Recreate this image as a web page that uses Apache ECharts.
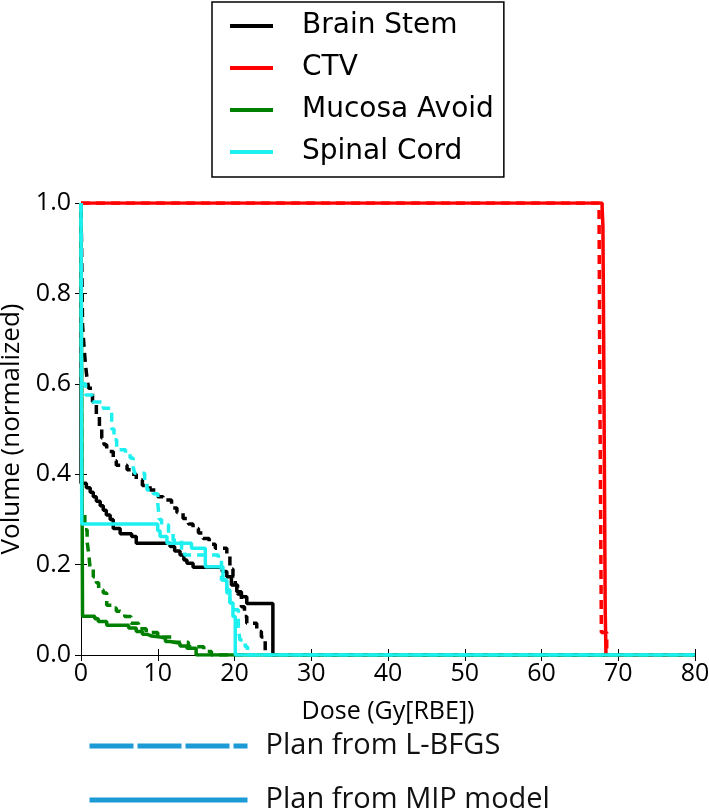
<!DOCTYPE html>
<html>
<head>
<meta charset="utf-8">
<script src="https://cdn.jsdelivr.net/npm/echarts@6/dist/echarts.min.js"></script>
<style>
html,body{margin:0;padding:0;background:#fff;}
#chart{width:709px;height:809px;}
</style>
</head>
<body>
<div id="chart"></div>
<script>
// ---- data: [dose (Gy[RBE]), volume (normalized)] ----
const structures = ['Brain Stem', 'CTV', 'Mucosa Avoid', 'Spinal Cord'];
const planNames = ['Plan from L-BFGS', 'Plan from MIP model'];
const xTicks = [0, 10, 20, 30, 40, 50, 60, 70, 80];
const yTicks = [0.0, 0.2, 0.4, 0.6, 0.8, 1.0];

const brainStemMIP = [[0,1.0],[0,0.38],[0.7,0.37],[1.2,0.36],[1.6,0.35],[2.0,0.34],[2.5,0.33],[2.9,0.32],[3.3,0.31],[3.8,0.30],[4.2,0.28],[5.1,0.268],[6.6,0.262],[7.2,0.247],[11.6,0.24],[12.2,0.23],[12.9,0.221],[13.4,0.21],[13.8,0.203],[14.6,0.194],[18.4,0.185],[19.0,0.173],[19.6,0.155],[20.3,0.14],[20.9,0.129],[21.6,0.114],[25.0,0],[80,0]];
const brainStemLBFGS = [[0,1.0],[0.2,0.73],[0.4,0.68],[0.6,0.64],[0.8,0.61],[1.0,0.59],[1.5,0.56],[2.0,0.53],[2.4,0.50],[2.7,0.48],[3.0,0.465],[3.35,0.45],[4.2,0.43],[4.6,0.42],[6.0,0.41],[6.6,0.40],[7.2,0.387],[8.0,0.375],[9.0,0.365],[10.0,0.35],[10.7,0.343],[11.8,0.325],[12.5,0.315],[13.3,0.302],[14.0,0.29],[14.6,0.28],[15.3,0.27],[15.9,0.258],[16.7,0.245],[17.5,0.236],[19.0,0.221],[19.4,0.19],[19.8,0.175],[20.1,0.155],[20.4,0.135],[20.9,0.107],[21.3,0.085],[21.6,0.07],[22.9,0.052],[23.5,0.04],[24.0,0],[80,0]];
const ctvMIP = [[0,1.0],[67.9,0.99],[68.0,0.95],[68.1,0.7],[68.2,0.4],[68.3,0.1],[68.4,0],[80,0]];
const ctvLBFGS = [[0,1.0],[67.5,0.98],[67.6,0.6],[67.8,0.05],[68.5,0],[80,0]];
const mucosaMIP = [[0,1.0],[0.2,0.086],[1.8,0.08],[2.25,0.074],[3.35,0.066],[6.2,0.06],[7.2,0.052],[8.0,0.046],[8.6,0.042],[9.2,0.04],[10.3,0.037],[11.0,0.03],[11.6,0.026],[12.9,0.02],[13.8,0.015],[15.0,0],[80,0]];
const mucosaLBFGS = [[0,1.0],[0.1,0.32],[0.5,0.277],[0.8,0.25],[1.0,0.225],[1.2,0.19],[1.6,0.173],[2.0,0.16],[2.3,0.144],[2.9,0.137],[3.35,0.11],[4.0,0.104],[4.6,0.097],[5.1,0.093],[5.7,0.085],[6.5,0.07],[7.5,0.058],[8.5,0.05],[10,0.04],[12,0.028],[14,0.018],[16,0.008],[17,0],[80,0]];
const spinalMIP = [[0,1.0],[0.1,0.29],[10.0,0.275],[10.3,0.262],[11.2,0.247],[14.4,0.236],[16.2,0.195],[18.5,0.166],[19.0,0.144],[19.4,0.115],[19.8,0.085],[20.1,0],[80,0]];
const spinalLBFGS = [[0,1.0],[0.05,0.60],[0.6,0.575],[1.5,0.56],[2.9,0.546],[4.0,0.50],[4.3,0.476],[4.65,0.454],[5.8,0.445],[6.4,0.436],[6.8,0.416],[7.0,0.402],[8.3,0.387],[8.6,0.365],[9.4,0.357],[10.0,0.336],[10.2,0.30],[10.5,0.288],[11.4,0.27],[12.0,0.254],[13.1,0.232],[13.5,0.221],[17.9,0.21],[18.3,0.166],[19.0,0.137],[19.4,0.115],[19.8,0.1],[20.5,0.063],[20.7,0.033],[21.4,0.018],[21.7,0],[80,0]];

const colors = {'Brain Stem':'#000000','CTV':'#ff0000','Mucosa Avoid':'#008000','Spinal Cord':'#1ef0f0'};
const planColor = '#1b9ad6';
const dashPattern = [9, 6];

function curve(name, data, dashed){
  return {
    name: dashed ? name + ' (L-BFGS)' : name,
    type: 'line', step: 'end', data: data,
    showSymbol: false, symbol: 'none', animation: false,
    lineStyle: {color: colors[name], width: 3.5, type: dashed ? dashPattern : 'solid'},
    itemStyle: {color: colors[name]}
  };
}

const series = [
  curve('Brain Stem', brainStemLBFGS, true),
  curve('Brain Stem', brainStemMIP, false),
  curve('CTV', ctvLBFGS, true),
  curve('CTV', ctvMIP, false),
  curve('Mucosa Avoid', mucosaLBFGS, true),
  curve('Mucosa Avoid', mucosaMIP, false),
  curve('Spinal Cord', spinalLBFGS, true),
  curve('Spinal Cord', spinalMIP, false),
  {name: planNames[0], type:'line', data: [], symbol:'none', lineStyle:{color: planColor, width:5, type:[44,4]}, itemStyle:{color: planColor}},
  {name: planNames[1], type:'line', data: [], symbol:'none', lineStyle:{color: planColor, width:5}, itemStyle:{color: planColor}}
];

const tickFont = {fontFamily: 'Open Sans', fontSize: 25, color: '#000'};
const axLine = {show: true, lineStyle: {color: '#000', width: 1}};
const axTick = {show: true, inside: true, length: 6, lineStyle: {color: '#000', width: 1}};

function planLegend(i, top, type){
  return {data: [{name: planNames[i], lineStyle: {color: planColor, width: 5, type: type}}],
     orient: 'vertical', left: 87, top: top, itemWidth: 158, itemHeight: 5, padding: 0,
     selectedMode: false,
     textStyle: {fontFamily: 'Open Sans', fontSize: 29, color: '#111', lineHeight: 34, padding: [0,0,0,13]}};
}

const chart = echarts.init(document.getElementById('chart'), null, {renderer: 'canvas'});
chart.setOption({
  backgroundColor: '#ffffff',
  animation: false,
  grid: {left: 81, right: 14, top: 203, bottom: 154, containLabel: false, outerBoundsMode: 'none'},
  xAxis: [
    {type: 'value', min: xTicks[0], max: xTicks[xTicks.length-1], interval: 10, position: 'bottom',
     axisLine: axLine, axisTick: axTick, splitLine: {show: false},
     axisLabel: Object.assign({margin: 6}, tickFont),
     name: 'Dose (Gy[RBE])', nameLocation: 'middle', nameGap: 44,
     nameTextStyle: {fontFamily: 'Open Sans', fontSize: 25, color: '#000'}},
    {type: 'value', min: xTicks[0], max: xTicks[xTicks.length-1], interval: 10, position: 'top',
     axisLine: axLine, axisTick: axTick, splitLine: {show: false}, axisLabel: {show: false}}
  ],
  yAxis: [
    {type: 'value', min: yTicks[0], max: yTicks[yTicks.length-1], interval: 0.2, position: 'left',
     axisLine: axLine, axisTick: axTick, splitLine: {show: false},
     axisLabel: Object.assign({margin: 10, formatter: v => v.toFixed(1)}, tickFont),
     name: 'Volume (normalized)', nameLocation: 'middle', nameGap: 52,
     nameTextStyle: {fontFamily: 'Open Sans', fontSize: 26, color: '#000'}},
    {type: 'value', min: yTicks[0], max: yTicks[yTicks.length-1], interval: 0.2, position: 'right',
     axisLine: axLine, axisTick: axTick, splitLine: {show: false}, axisLabel: {show: false}}
  ],
  legend: [
    {data: structures, orient: 'vertical', left: 212, top: 2,
     icon: 'rect', itemWidth: 43, itemHeight: 4, itemGap: 12,
     padding: [9, 10, 10, 18],
     backgroundColor: '#fff', borderColor: '#000', borderWidth: 1.5, borderRadius: 0,
     selectedMode: false,
     textStyle: {fontFamily: 'DejaVu Sans', fontSize: 28, color: '#000', lineHeight: 30, padding: [0,0,0,24]}},
    planLegend(0, 729, [44,4]),
    planLegend(1, 783, 'solid')
  ],
  series: series
});
</script>
</body>
</html>
